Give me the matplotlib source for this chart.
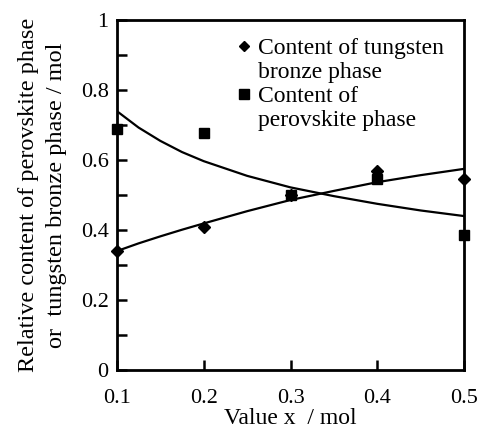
import numpy as np
import matplotlib.pyplot as plt
from matplotlib.lines import Line2D

plt.rcParams['font.family'] = 'Liberation Serif'

x = [0.1, 0.2, 0.3, 0.4, 0.5]
tungsten = [0.34, 0.41, 0.50, 0.57, 0.545]
perovskite = [0.69, 0.677, 0.50, 0.545, 0.385]

# fitted curves
x_fit = [0.1, 0.125, 0.15, 0.175, 0.2, 0.25, 0.3, 0.35, 0.4, 0.45, 0.5]
perov_fit = [0.740, 0.693, 0.655, 0.623, 0.597, 0.555, 0.522, 0.497, 0.475, 0.456, 0.440]
tung_fit = [0.340, 0.362, 0.382, 0.401, 0.419, 0.454, 0.486, 0.512, 0.537, 0.557, 0.575]

fig = plt.figure(figsize=(4.81, 4.29), dpi=100)
ax = fig.add_axes([0.243, 0.1375, 0.722, 0.8155])

ax.plot(x_fit, perov_fit, 'k-', lw=1.6)
ax.plot(x_fit, tung_fit, 'k-', lw=1.6)
ax.plot(x, tungsten, 'kD', ms=6, ls='none', clip_on=False)
ax.plot(x, perovskite, 'ks', ms=7.5, ls='none', clip_on=False)

ax.set_xlim(0.1, 0.5)
ax.set_ylim(0, 1)
ax.set_xticks([0.1, 0.2, 0.3, 0.4, 0.5])
ax.set_xticklabels(['0.1', '0.2', '0.3', '0.4', '0.5'])
ax.set_yticks([0, 0.2, 0.4, 0.6, 0.8, 1])
ax.set_yticklabels(['0', '0.2', '0.4', '0.6', '0.8', '1'])
ax.set_yticks([0.1, 0.3, 0.5, 0.7, 0.9], minor=True)
ax.tick_params(direction='in', length=7, width=1.8, labelsize=16)
ax.tick_params(axis='y', pad=6)
ax.tick_params(axis='x', pad=14)
ax.tick_params(which='minor', direction='in', length=7, width=1.8)
for s in ax.spines.values():
    s.set_linewidth(2)

ax.set_xlabel('Value x  / mol', fontsize=17, labelpad=0)
ax.set_ylabel('Relative content of perovskite phase\nor  tungsten bronze phase / mol',
              fontsize=17.5, linespacing=1.4, labelpad=10)

blank = Line2D([], [], ls='none')
handles = [Line2D([], [], color='k', marker='D', ms=5, ls='none'), blank,
           Line2D([], [], color='k', marker='s', ms=6.5, ls='none'), blank]
labels = ['Content of tungsten', 'bronze phase', 'Content of', 'perovskite phase']
ax.legend(handles, labels,
          loc='upper left', bbox_to_anchor=(0.295, 1.0), frameon=False, fontsize=17,
          handlelength=0.6, handletextpad=0.3, labelspacing=0.1, borderpad=0.25)

fig.savefig('out.png', dpi=100)
